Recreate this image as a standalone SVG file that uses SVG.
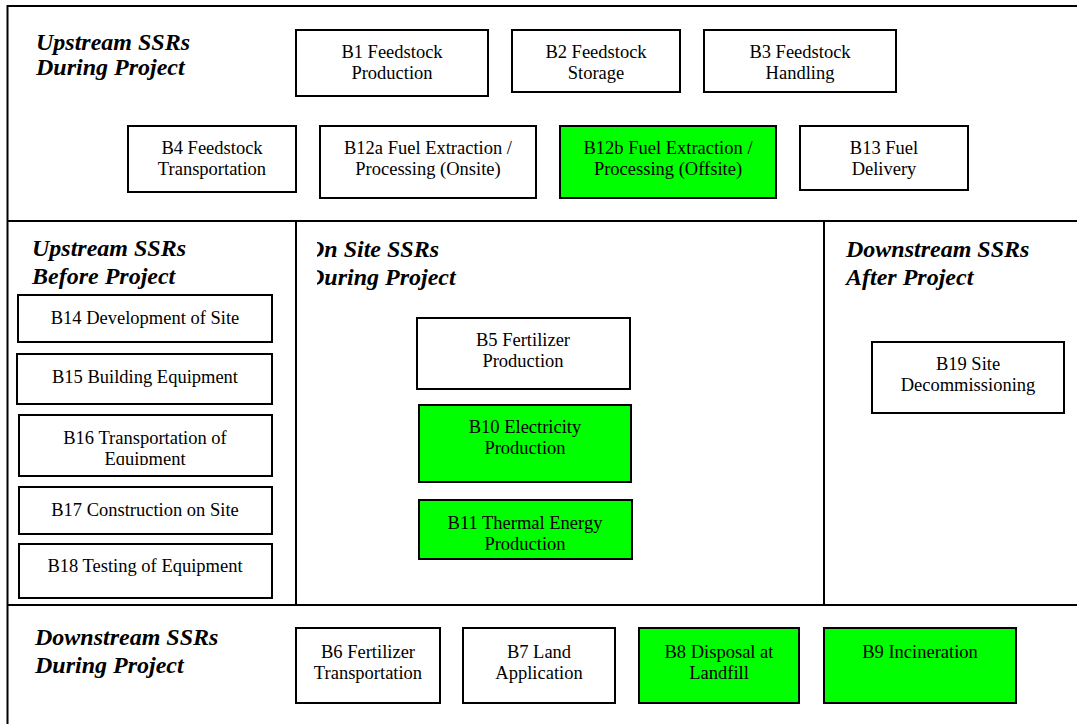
<svg xmlns="http://www.w3.org/2000/svg" width="1077" height="724" viewBox="0 0 1077 724">
<style>
.frame{stroke:#000;stroke-width:2;fill:none}
.box{stroke:#000;stroke-width:2;fill:#fff}
.g{fill:#00ff00}
.t{font-family:"Liberation Serif",serif;font-size:18.5px;fill:#000;text-anchor:middle}
.h{font-family:"Liberation Serif",serif;font-size:24px;font-weight:bold;font-style:italic;fill:#000}
</style>
<defs>
<clipPath id="clipOn"><rect x="317" y="230" width="300" height="70"/></clipPath>
<clipPath id="clipB16"><rect x="19" y="415" width="253" height="50"/></clipPath>
</defs>
<rect width="1077" height="724" fill="#fff"/>
<g id="frame">
<path class="frame" d="M7.5 724 V6 H1077 M7.5 221 H1077 M296 221 V605 M824 221 V605 M7.5 605 H1077"/>
</g>
<g id="headings">
<text class="h" x="36" y="50">Upstream SSRs</text>
<text class="h" x="36" y="75">During Project</text>
<text class="h" x="32" y="256">Upstream SSRs</text>
<text class="h" x="32" y="284">Before Project</text>
<g clip-path="url(#clipOn)">
<text class="h" x="307" y="257">On Site SSRs</text>
<text class="h" x="307" y="285">During Project</text>
</g>
<text class="h" x="846" y="257">Downstream SSRs</text>
<text class="h" x="846" y="285">After Project</text>
<text class="h" x="35" y="645">Downstream SSRs</text>
<text class="h" x="35" y="673">During Project</text>
</g>
<g id="connectors"></g>
<g id="B1"><rect class="box" x="296" y="30" width="192" height="66"/><text class="t" x="392" y="58">B1 Feedstock</text><text class="t" x="392" y="79">Production</text></g>
<g id="B2"><rect class="box" x="512" y="30" width="168" height="62"/><text class="t" x="596" y="58">B2 Feedstock</text><text class="t" x="596" y="79">Storage</text></g>
<g id="B3"><rect class="box" x="704" y="30" width="192" height="62"/><text class="t" x="800" y="58">B3 Feedstock</text><text class="t" x="800" y="79">Handling</text></g>
<g id="B4"><rect class="box" x="128" y="126" width="168" height="66"/><text class="t" x="212" y="154">B4 Feedstock</text><text class="t" x="212" y="175">Transportation</text></g>
<g id="B12a"><rect class="box" x="320" y="126" width="216" height="72"/><text class="t" x="428" y="154">B12a Fuel Extraction /</text><text class="t" x="428" y="175">Processing (Onsite)</text></g>
<g id="B12b"><rect class="box g" x="560" y="126" width="216" height="72"/><text class="t" x="668" y="154">B12b Fuel Extraction /</text><text class="t" x="668" y="175">Processing (Offsite)</text></g>
<g id="B13"><rect class="box" x="800" y="126" width="168" height="64"/><text class="t" x="884" y="154">B13 Fuel</text><text class="t" x="884" y="175">Delivery</text></g>
<g id="B14"><rect class="box" x="18" y="295" width="254" height="47"/><text class="t" x="145" y="324">B14 Development of Site</text></g>
<g id="B15"><rect class="box" x="17" y="354" width="255" height="50"/><text class="t" x="145" y="383">B15 Building Equipment</text></g>
<g id="B16"><rect class="box" x="19" y="415" width="253" height="61"/><g clip-path="url(#clipB16)"><text class="t" x="145" y="444">B16 Transportation of</text><text class="t" x="145" y="465">Equipment</text></g></g>
<g id="B17"><rect class="box" x="19" y="487" width="253" height="47"/><text class="t" x="145" y="516">B17 Construction on Site</text></g>
<g id="B18"><rect class="box" x="19" y="544" width="253" height="54"/><text class="t" x="145" y="572">B18 Testing of Equipment</text></g>
<g id="B5"><rect class="box" x="417" y="318" width="213" height="71"/><text class="t" x="523" y="346">B5 Fertilizer</text><text class="t" x="523" y="367">Production</text></g>
<g id="B10"><rect class="box g" x="419" y="405" width="212" height="77"/><text class="t" x="525" y="433">B10 Electricity</text><text class="t" x="525" y="454">Production</text></g>
<g id="B11"><rect class="box g" x="419" y="500" width="213" height="59"/><text class="t" x="525" y="529">B11 Thermal Energy</text><text class="t" x="525" y="550">Production</text></g>
<g id="B19"><rect class="box" x="872" y="342" width="192" height="71"/><text class="t" x="968" y="370">B19 Site</text><text class="t" x="968" y="391">Decommissioning</text></g>
<g id="B6"><rect class="box" x="296" y="628" width="144" height="75"/><text class="t" x="368" y="658">B6 Fertilizer</text><text class="t" x="368" y="679">Transportation</text></g>
<g id="B7"><rect class="box" x="463" y="628" width="152" height="75"/><text class="t" x="539" y="658">B7 Land</text><text class="t" x="539" y="679">Application</text></g>
<g id="B8"><rect class="box g" x="639" y="628" width="160" height="75"/><text class="t" x="719" y="658">B8 Disposal at</text><text class="t" x="719" y="679">Landfill</text></g>
<g id="B9"><rect class="box g" x="824" y="628" width="192" height="75"/><text class="t" x="920" y="658">B9 Incineration</text></g>
</svg>
